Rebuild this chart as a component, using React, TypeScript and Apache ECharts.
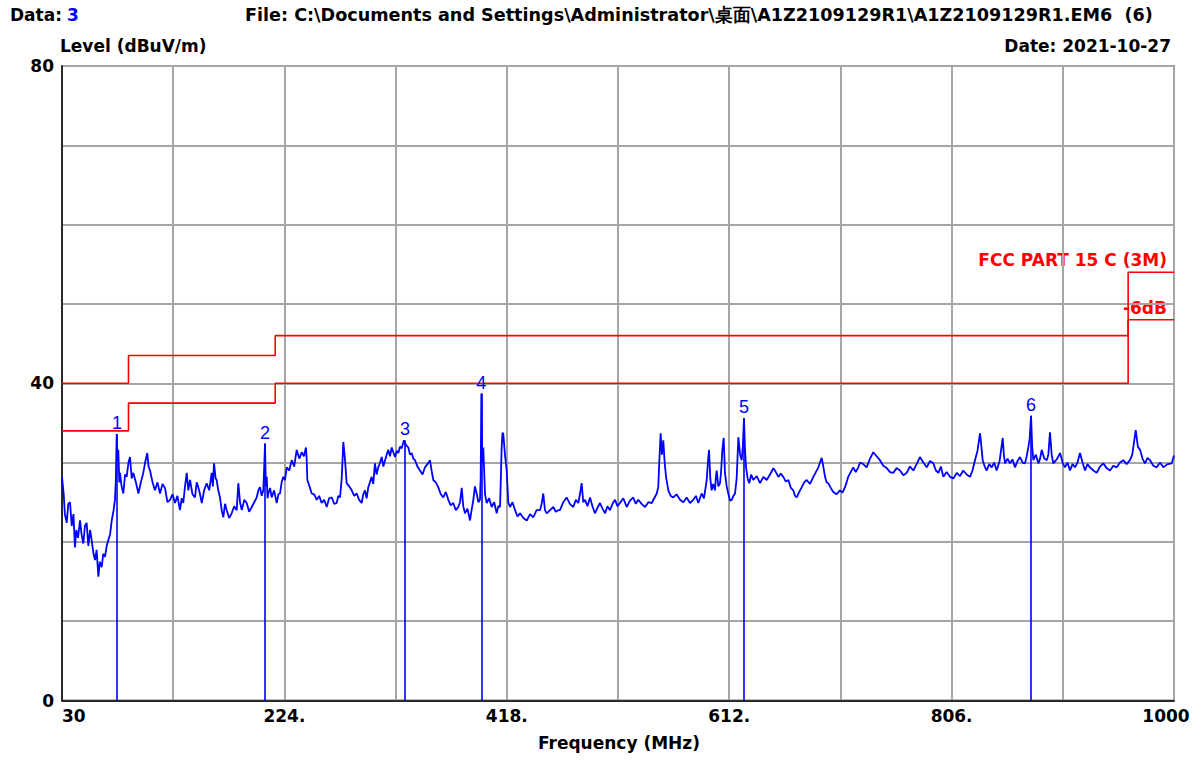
import React, { useEffect, useRef } from 'react';
import * as echarts from 'echarts';

// Measured trace: [frequency MHz, level dBuV/m]
const trace: number[][] = [
  [30, 28.2], [31.5, 26.0], [32.5, 23.5], [34.1, 22.4], [35.5, 24.8], [37, 25.0], [38.5, 22.0], [40, 23.5], [41.3, 19.3], [42.5, 21.5],
  [44, 20.5], [45.7, 22.7], [47, 21.0], [48.6, 19.8], [50, 22.0], [51.5, 22.4], [53, 19.5], [54.5, 21.5], [55.9, 20.2], [57.5, 18.5],
  [58.8, 17.7], [60.2, 19.0], [61.7, 15.6], [63, 17.5], [64.6, 16.8], [66, 18.5], [67.5, 18.1], [69, 19.5], [70.4, 20.2], [72, 21.0],
  [73.4, 22.7], [75, 24.0], [76.2, 25.3], [77, 28.0], [77.7, 33.6], [78.4, 30.5], [79.1, 31.6], [80, 27.5], [80.6, 28.7], [82, 27.0],
  [83.5, 26.1], [85, 28.5], [86.4, 28.2], [88, 30.0], [89.3, 30.7], [90.8, 28.0], [92.2, 28.7], [94.5, 27.5], [96.6, 26.1], [98.8, 27.5],
  [100.9, 28.7], [102.5, 30.0], [104.4, 31.2], [105.5, 29.5], [106.8, 29.0], [109, 27.5], [111.1, 26.5], [113.3, 27.5], [115.5, 26.1], [117.7, 27.3],
  [119.8, 26.8], [122, 25.0], [124.2, 25.3], [126.4, 26.0], [128.6, 24.9], [130.7, 25.8], [132.9, 24.0], [134.4, 25.5], [135.8, 24.9], [137.3, 27.0],
  [138.8, 28.7], [140.2, 26.5], [141.7, 27.8], [143.8, 26.0], [146, 25.6], [147.5, 27.5], [148.9, 26.9], [150.4, 26.0], [151.9, 24.9], [154, 26.5],
  [156.2, 27.4], [158.4, 26.5], [160.6, 28.7], [161.6, 27.0], [162.6, 29.9], [164, 28.0], [164.9, 27.8], [166.3, 26.5], [167.8, 25.6], [169.3, 24.0],
  [170.7, 23.1], [172.2, 24.8], [173.7, 24.0], [175.8, 23.0], [178, 23.6], [180.2, 24.5], [182.4, 24.0], [183.8, 27.4], [185.3, 25.0], [186.8, 24.0],
  [189, 25.3], [191.1, 24.9], [193.3, 23.8], [195.5, 24.4], [197.7, 25.0], [199.8, 25.6], [201.3, 26.5], [202.7, 26.9], [204.2, 25.8], [205.6, 26.5],
  [206.4, 29.5], [207.1, 32.4], [207.8, 27.0], [208.6, 28.2], [209.3, 25.5], [210, 26.1], [211.5, 26.8], [212.9, 25.6], [215, 26.5], [217.3, 24.9],
  [218.8, 26.0], [220.2, 26.1], [221.6, 27.5], [223, 28.2], [224.5, 27.8], [226, 29.4], [228.2, 29.0], [230.4, 30.3], [232.5, 29.5], [234.7, 31.6],
  [237, 30.5], [239.1, 31.3], [241, 30.8], [242.8, 31.9], [243.4, 30.5], [244, 27.8], [245.9, 27.0], [247.8, 26.1], [250, 26.0], [252.2, 25.3],
  [254.3, 25.8], [256.5, 24.9], [258.7, 25.3], [260.9, 24.4], [263, 25.5], [265.3, 25.6], [267.5, 24.8], [269.6, 24.9], [271, 25.8], [272.5, 25.6],
  [274, 28.0], [275.4, 32.6], [276.8, 30.5], [278.3, 27.4], [280.5, 27.0], [282.7, 26.5], [284.9, 25.8], [287.1, 26.1], [289.2, 25.3], [291.4, 24.9],
  [292.8, 26.0], [294.3, 26.5], [295.7, 25.5], [297.2, 26.9], [298.6, 27.5], [300.1, 28.2], [301.5, 27.3], [303, 29.9], [304.4, 28.5], [305.9, 29.4],
  [307.4, 30.0], [308.9, 30.7], [310.3, 29.5], [311.8, 30.3], [313.2, 31.0], [314.6, 31.6], [316.1, 30.8], [317.6, 31.9], [319, 31.3], [320.5, 30.7],
  [322, 31.5], [323.4, 31.2], [324.8, 32.0], [326.3, 31.8], [328.3, 32.8], [330.2, 32.2], [332.1, 31.9], [333.5, 31.0], [335, 31.2], [336.4, 30.5],
  [337.9, 30.3], [340, 29.5], [342.3, 29.0], [344.5, 28.5], [346.6, 29.4], [348.8, 29.8], [351, 30.3], [352.4, 29.0], [353.9, 27.8], [356, 27.5],
  [358.2, 26.9], [360.4, 26.0], [362.6, 25.6], [364.8, 26.3], [367, 25.3], [369, 24.6], [371.3, 24.9], [373.5, 24.0], [375.7, 24.4], [377.2, 25.0],
  [378.7, 26.8], [380, 24.5], [381.5, 23.6], [383.7, 24.2], [385.9, 22.7], [387.3, 24.0], [388.8, 25.3], [390.2, 27.0], [391.7, 26.1], [393.2, 25.0],
  [394.6, 25.3], [395.2, 28.0], [395.8, 38.7], [396.6, 30.0], [397.5, 31.9], [399, 26.0], [400.5, 24.9], [402.6, 25.5], [404.8, 24.4], [407, 25.0],
  [409.2, 23.6], [410.6, 24.5], [412.1, 24.4], [412.8, 28.0], [413.5, 31.8], [414.2, 33.7], [414.9, 33.7], [416.4, 31.0], [417.9, 29.0], [419.3, 25.0],
  [420.8, 24.4], [423, 25.0], [425.2, 24.0], [427.3, 23.2], [429.5, 23.6], [432.5, 23.0], [435.4, 22.7], [438.3, 23.5], [441.1, 23.1], [444, 24.0],
  [447, 24.0], [448.4, 24.8], [449.8, 26.1], [451.3, 24.0], [452.8, 23.6], [455.7, 24.0], [458.6, 24.4], [460.7, 23.8], [462.9, 24.0], [464.4, 24.0],
  [467.3, 25.0], [470.2, 25.6], [473, 24.8], [476, 24.4], [478.2, 25.3], [480.4, 24.9], [481.8, 26.0], [483.3, 27.4], [484.7, 25.0], [486.2, 25.3],
  [488.4, 24.5], [490.6, 25.6], [492.7, 24.5], [494.9, 23.6], [497.1, 24.3], [499.3, 24.9], [501.5, 24.2], [503.7, 23.6], [505.8, 24.5], [508, 24.0],
  [510.2, 24.8], [512.4, 25.3], [514.5, 24.5], [516.7, 24.9], [519.6, 25.5], [522.6, 24.4], [525.4, 25.2], [528.3, 25.6], [530.5, 24.8], [532.7, 25.3],
  [535.6, 24.8], [538.6, 24.4], [541.5, 25.0], [544.4, 24.9], [546.6, 25.5], [548.8, 26.1], [550.1, 26.9], [551, 30.0], [552.2, 33.7], [553.3, 31.0],
  [554.5, 32.8], [555.7, 30.0], [556.9, 28.2], [558.9, 26.5], [561, 25.8], [563.2, 25.6], [566.1, 26.0], [569.1, 25.3], [572, 25.0], [574.9, 25.6],
  [577.8, 24.9], [580.7, 25.3], [583, 25.8], [585, 24.9], [586.5, 25.5], [588, 26.1], [590, 25.5], [592.4, 27.8], [593.4, 30.0], [594.4, 31.6],
  [595.5, 28.0], [596.7, 26.5], [598, 27.3], [599.6, 26.5], [600.3, 28.0], [601.1, 29.0], [602.5, 27.0], [604, 27.4], [605, 29.0], [606, 31.6],
  [607.2, 33.1], [608.3, 28.7], [609.8, 27.0], [611.2, 26.1], [612.7, 25.2], [614.2, 25.3], [615.7, 25.8], [617.1, 26.1], [618.5, 28.0], [620, 33.2],
  [621.5, 31.0], [622.9, 30.3], [623.9, 32.0], [624.9, 35.6], [625.8, 31.5], [626.7, 29.4], [628.1, 28.0], [629.5, 27.4], [631.2, 28.5], [633, 27.8],
  [636, 28.3], [638.9, 27.4], [641.8, 28.2], [644.7, 27.8], [647.6, 28.5], [650.5, 29.3], [652.7, 28.8], [654.9, 28.2], [657, 28.6], [659.2, 28.2],
  [661.4, 27.6], [663.6, 27.8], [665.8, 26.8], [667.9, 26.5], [669.4, 25.8], [670.9, 25.6], [673.1, 26.3], [675.3, 26.9], [677.4, 27.5], [679.6, 27.8],
  [682.5, 27.3], [685.4, 28.2], [687.6, 28.8], [689.8, 29.4], [691.2, 30.0], [692.7, 30.6], [694.1, 29.5], [695.6, 28.2], [697, 27.5], [698.4, 27.4],
  [700.6, 26.8], [702.8, 26.3], [705.7, 26.0], [708.6, 26.5], [710.8, 26.2], [713, 26.9], [714.4, 27.5], [715.8, 28.2], [718, 28.8], [720.2, 29.4],
  [722.4, 28.8], [724.6, 29.4], [726.1, 30.0], [729, 29.8], [731.9, 29.4], [734.8, 30.5], [737.7, 31.3], [740.6, 30.8], [743.5, 30.3], [746.4, 29.6],
  [749.4, 29.3], [752.3, 28.8], [755.1, 28.7], [758, 29.3], [761, 29.0], [763.9, 28.4], [766.8, 28.7], [769.7, 29.5], [772.6, 29.0], [775.5, 29.8],
  [778.4, 30.7], [781.3, 30.0], [784.3, 29.4], [787.2, 30.2], [790.1, 29.9], [792.3, 29.0], [794.5, 28.7], [796.6, 29.5], [798.8, 28.2], [801.7, 28.8],
  [804.6, 28.2], [807.5, 28.0], [810.5, 28.7], [813.3, 28.3], [816.2, 29.0], [819.1, 28.5], [822.1, 28.2], [824.2, 29.0], [826.4, 30.3], [828.6, 31.5],
  [830.8, 33.7], [832, 32.0], [833.1, 30.3], [834.9, 29.5], [836.6, 29.0], [838.8, 29.8], [841, 29.4], [843.1, 30.0], [845.3, 29.0], [847.9, 30.2],
  [850.6, 33.1], [851.6, 31.0], [852.6, 29.9], [854.8, 30.5], [856.9, 29.9], [859.1, 30.4], [861.3, 29.4], [863.5, 30.2], [865.7, 30.7], [867.9, 30.0],
  [870, 29.9], [871.5, 30.8], [872.9, 31.9], [874.1, 33.0], [875.3, 35.9], [876.3, 32.0], [877.3, 30.3], [879.5, 31.0], [881.7, 29.9], [883.2, 30.5],
  [884.6, 31.6], [886.8, 30.5], [889, 30.3], [890.4, 31.0], [891.8, 33.8], [893.3, 31.0], [894.7, 29.9], [897.7, 30.4], [900.6, 31.2], [902.8, 30.0],
  [904.9, 29.4], [907.1, 30.0], [909.3, 29.0], [911.5, 29.8], [913.6, 29.4], [915.8, 30.0], [918, 31.2], [920.2, 30.0], [922.4, 29.0], [924.5, 29.8],
  [926.7, 29.4], [929.7, 29.0], [932.6, 28.7], [935.5, 29.5], [938.3, 29.9], [941.2, 29.3], [944.2, 29.0], [947.1, 29.6], [950, 29.4], [952.9, 30.0],
  [955.8, 30.3], [958.7, 29.8], [961.6, 30.3], [963.6, 31.0], [966.6, 34.1], [968.5, 32.0], [970.4, 31.6], [972.5, 30.5], [974.7, 29.9], [976.9, 30.6],
  [979.1, 30.3], [982, 29.6], [984.9, 29.4], [987.8, 30.0], [990.7, 29.4], [994.4, 29.8], [998, 29.9], [1000, 30.9]
];

// FCC Part 15 C (3m) limit and -6 dB margin
const limitFreq = [30, 88, 216, 960, 1000];
const limitLevel = [40, 43.5, 46, 54];
const marginDb = 6;

// Markers
const markerFreq = [78.0, 207.1, 329.2, 395.8, 624.9, 875.3];
const markerLevel = [33.6, 32.4, 32.8, 38.7, 35.6, 35.9];
const markerNames = ['1', '2', '3', '4', '5', '6'];

// Axis
const freqStart = 30;
const freqStep = 97;
const freqSpan = 970;
const xTickLabels = ['30', '224.', '418.', '612.', '806.', '1000'];
const yTickShown = [0, 40, 80];

const BOLD_FONT = '"DejaVu Sans", Verdana, sans-serif';
const FONT = '"Liberation Sans", Arial, Helvetica, sans-serif';
const FS = 17;
const BLUE = '#0000ff';
const RED = '#ff0000';

function stepData(offset: number) {
  const pts: number[][] = [];
  for (let i = 0; i < limitLevel.length; i++) {
    pts.push([limitFreq[i] - freqStart, limitLevel[i] - offset]);
    pts.push([limitFreq[i + 1] - freqStart, limitLevel[i] - offset]);
  }
  return pts;
}

export default function App() {
  const ref = useRef<HTMLDivElement>(null);
  useEffect(() => {
    const chart = echarts.init(ref.current!, null, { renderer: 'svg' });
    const bt = (text: string, x: number, y: number, align: string, fill = '#000', size = FS) => ({
      type: 'text', x, y, silent: true,
      style: { text, fill, fontFamily: BOLD_FONT, fontWeight: 'bold', fontSize: size, align, verticalAlign: 'middle' }
    });
    const option: any = {
      animation: false,
      backgroundColor: '#fff',
      grid: {
        left: 62, top: 66, width: 1112, height: 634.5,
        show: true, borderColor: '#000', borderWidth: 1.5, backgroundColor: 'transparent'
      },
      xAxis: {
        type: 'value', min: 0, max: freqSpan, interval: freqStep,
        axisLine: { show: true, onZero: false, lineStyle: { color: '#000', width: 1.5 } },
        axisTick: { show: false },
        splitLine: { show: true, lineStyle: { color: '#a6a6a6', width: 2 } },
        axisLabel: {
          margin: 7, color: '#000', fontFamily: BOLD_FONT, fontWeight: 'bold', fontSize: FS,
          alignMinLabel: 'left', showMaxLabel: true, showMinLabel: true,
          rich: { last: { padding: [0, 16, 0, 0], color: '#000', fontFamily: BOLD_FONT, fontWeight: 'bold', fontSize: FS } },
          formatter: (v: number) => {
            const k = Math.round(v / freqStep);
            if (k % 2 !== 0) return '';
            const s = xTickLabels[k / 2];
            return k === 10 ? '{last|' + s + '}' : s;
          }
        }
      },
      yAxis: {
        type: 'value', min: 0, max: 80, interval: 10,
        axisLine: { show: true, lineStyle: { color: '#000', width: 1.5 } },
        axisTick: { show: false },
        splitLine: { show: true, lineStyle: { color: '#a6a6a6', width: 2 } },
        axisLabel: {
          margin: 8, color: '#000', fontFamily: BOLD_FONT, fontWeight: 'bold', fontSize: FS,
          padding: [4, 0, 0, 0],
          formatter: (v: number) => (yTickShown.indexOf(v) >= 0 ? String(v) : '')
        }
      },
      series: [
        {
          type: 'line', data: stepData(0), showSymbol: false, silent: true,
          lineStyle: { color: RED, width: 1.6 }, z: 3
        },
        {
          type: 'line', data: stepData(marginDb), showSymbol: false, silent: true,
          lineStyle: { color: RED, width: 1.6 }, z: 3
        },
        {
          type: 'line', showSymbol: false, silent: true,
          data: trace.map((p) => [p[0] - freqStart, p[1]]),
          lineStyle: { color: BLUE, width: 1.8 }, z: 4,
          markLine: {
            silent: true, symbol: ['none', 'none'], animation: false,
            lineStyle: { color: BLUE, width: 1.6, type: 'solid' },
            label: {
              show: true, position: 'end', distance: 2, color: BLUE,
              fontFamily: FONT, fontSize: 18, fontWeight: 'normal',
              formatter: (p: any) => markerNames[p.dataIndex]
            },
            emphasis: { disabled: true },
            data: markerFreq.map((f, i) => [
              { coord: [f - freqStart, 0] },
              { coord: [f - freqStart, markerLevel[i]] }
            ])
          }
        }
      ],
      graphic: [
        bt('Data:', 10, 15, 'left'),
        bt('3', 67, 15, 'left', BLUE),
        bt('File: C:\\Documents and Settings\\Administrator\\桌面\\A1Z2109129R1\\A1Z2109129R1.EM6  (6)', 245, 15, 'left', '#000', 17.6),
        bt('Level (dBuV/m)', 60, 46, 'left'),
        bt('Date: 2021-10-27', 1171, 46, 'right'),
        bt('Frequency (MHz)', 619, 743, 'center'),
        bt('FCC PART 15 C (3M)', 1167, 260, 'right', RED),
        bt('-6dB', 1167, 308, 'right', RED)
      ]
    };
    chart.setOption(option);
    return () => chart.dispose();
  }, []);
  return (
    <div
      ref={ref}
      style={{ position: 'fixed', left: 0, top: 0, width: 1203, height: 760, background: '#fff' }}
    />
  );
}
